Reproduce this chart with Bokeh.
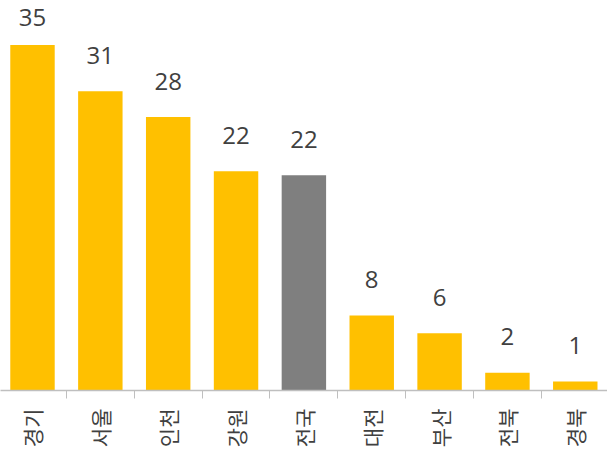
import math
from bokeh.plotting import figure
from bokeh.models import ColumnDataSource, FixedTicker, Range1d
from bokeh.core.properties import value
from bokeh.embed import file_html
from bokeh.resources import INLINE

categories = ["경기", "서울", "인천", "강원", "전국", "대전", "부산", "전북", "경북"]
values = [35.0, 30.3, 27.7, 22.2, 21.8, 7.6, 5.8, 1.8, 0.9]
value_labels = ["35", "31", "28", "22", "22", "8", "6", "2", "1"]
highlight = "전국"

YELLOW = "#FFC000"
GREY = "#7F7F7F"
TEXT = "#404040"

xs = list(range(len(categories)))
colors = [GREY if c == highlight else YELLOW for c in categories]
offsets = [-27 if v == max(values) else -36 for v in values]

src = ColumnDataSource(dict(x=xs, top=values, color=colors, label=value_labels, yoff=offsets))

p = figure(frame_width=607, frame_height=390, output_backend="svg", toolbar_location=None,
           x_range=Range1d(-0.4716, 8.475), y_range=Range1d(0, 39.5),
           min_border_left=0, min_border_right=0, min_border_top=0, min_border_bottom=0)

p.vbar(x="x", top="top", bottom=0, width=0.655, fill_color="color", line_color=None, source=src)
p.text(x="x", y="top", text="label", y_offset="yoff", source=src,
       text_align="center", text_baseline="alphabetic",
       text_font=value("Open Sans"), text_font_size="24px", text_color=TEXT)

p.xgrid.visible = False
p.ygrid.visible = False
p.yaxis.visible = False
p.outline_line_color = None

ax = p.xaxis[0]
ax.ticker = FixedTicker(ticks=xs, minor_ticks=[i + 0.5 for i in xs[:-1]])
ax.major_label_overrides = {i: c for i, c in zip(xs, categories)}
ax.major_label_orientation = math.pi / 2
ax.major_label_text_font = "Noto Sans CJK KR"
ax.major_label_text_font_size = "21px"
ax.major_label_text_color = TEXT
ax.major_label_standoff = 10
ax.major_tick_line_color = None
ax.major_tick_out = 8
ax.major_tick_in = 0
ax.minor_tick_line_color = "#BFBFBF"
ax.minor_tick_out = 8
ax.minor_tick_in = 0
ax.axis_line_color = "#BFBFBF"
ax.axis_line_width = 1.5

open("out.html", "w").write(file_html(p, INLINE))
